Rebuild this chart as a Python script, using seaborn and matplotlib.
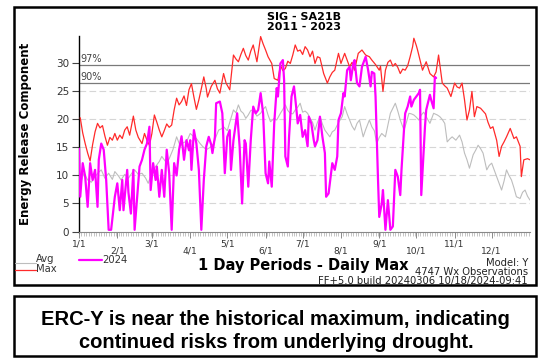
import matplotlib
matplotlib.use("Agg")
import matplotlib.pyplot as plt
import seaborn as sns
import pandas as pd
from matplotlib.patches import Rectangle
from matplotlib.lines import Line2D

# ---------------- data (day of year, value) ----------------
max_days = [1, 3, 5, 7, 9, 11, 13, 15, 17, 19, 21, 23, 25, 27, 29, 31, 33, 35, 37, 39, 41, 44, 46, 48,
            51, 53, 55, 57, 59, 61, 63, 65, 67, 69, 71, 73, 75, 77, 79, 81, 83, 85, 87, 89, 91, 93,
            95, 97, 99, 101, 103, 104, 107, 110, 112, 114, 117, 119, 122, 125, 127, 129, 131, 133,
            135, 137, 139, 141, 144, 147, 149, 151, 153, 156, 158, 161, 163, 165, 167, 169, 171,
            173, 175, 177, 179, 181, 183, 185, 187, 189, 191, 193, 195, 198, 201, 203, 205, 207,
            210, 212, 215, 217, 219, 221, 223, 226, 229, 232, 235, 237, 240, 243, 244, 246, 248,
            250, 252, 254, 256, 258, 260, 262, 264, 266, 268, 270, 271, 273, 274, 276, 278, 281,
            284, 287, 289, 291, 294, 296, 298, 301, 304, 306, 308, 310, 312, 314, 316, 318, 320,
            322, 325, 327, 329, 331, 333, 335, 338, 340, 342, 344, 346, 349, 352, 354, 357, 358,
            360, 363, 365]
max_vals = [20.3, 17.6, 15.7, 14.0, 12.6, 15.5, 17.8, 19.3, 18.5, 18.9, 17.0, 15.4, 16.8, 16.3,
            17.5, 16.3, 17.2, 16.6, 18.1, 18.7, 17.2, 20.6, 18.1, 16.8, 15.7, 17.5, 16.3, 15.4,
            17.5, 20.8, 19.5, 18.1, 16.9, 18.0, 19.2, 18.6, 19.0, 21.7, 23.8, 22.6, 23.2, 24.2,
            22.5, 25.3, 26.4, 24.0, 21.8, 23.5, 25.5, 27.6, 25.5, 24.0, 25.9, 27.0, 25.5, 24.7,
            28.2, 26.5, 25.3, 31.5, 30.8, 30.3, 31.6, 32.7, 31.4, 30.6, 32.2, 33.3, 30.3, 34.8,
            33.5, 32.4, 31.2, 30.0, 27.3, 27.0, 29.7, 28.7, 29.1, 30.4, 30.0, 31.5, 33.3, 32.2,
            32.4, 31.6, 33.0, 32.4, 31.2, 32.2, 30.0, 31.2, 31.0, 28.2, 26.5, 27.6, 28.4, 28.8,
            31.8, 30.0, 31.8, 30.6, 29.4, 30.2, 28.8, 31.8, 32.4, 31.5, 31.2, 30.6, 29.8, 28.8,
            29.5, 25.0, 28.8, 30.2, 30.6, 29.5, 30.0, 29.3, 28.2, 29.0, 28.8, 29.6, 31.2, 33.0,
            34.5, 33.2, 32.4, 30.6, 28.8, 30.3, 28.2, 27.6, 28.5, 31.5, 26.5, 26.0, 25.6, 24.1,
            26.5, 25.8, 25.6, 26.5, 23.5, 19.9, 21.7, 25.0, 20.5, 22.3, 22.0, 21.5, 21.0, 19.5,
            18.4, 18.7, 16.3, 13.4, 15.2, 16.0, 16.9, 18.4, 16.6, 16.9, 15.2, 9.8, 12.8, 13.0,
            12.8]

avg_days = [1, 4, 7, 10, 13, 16, 18, 21, 24, 27, 29, 32, 34, 37, 40, 43, 45, 48, 51, 54, 56, 59,
            62, 65, 67, 69, 71, 73, 76, 79, 82, 84, 86, 88, 90, 93, 95, 98, 100, 103, 106, 109,
            111, 113, 115, 117, 120, 122, 125, 127, 129, 131, 133, 135, 137, 139, 141, 144, 147,
            149, 151, 153, 155, 158, 160, 163, 165, 167, 169, 171, 173, 175, 177, 179, 181, 183,
            185, 187, 189, 191, 193, 195, 197, 199, 201, 203, 205, 207, 209, 211, 213, 215, 217,
            219, 221, 223, 225, 227, 230, 232, 235, 237, 239, 241, 243, 245, 248, 250, 252, 254,
            256, 258, 260, 263, 265, 267, 269, 271, 273, 275, 277, 279, 281, 284, 287, 290, 292,
            294, 296, 298, 300, 302, 305, 308, 310, 312, 314, 316, 319, 321, 323, 325, 327, 330,
            332, 334, 336, 338, 340, 342, 344, 346, 348, 350, 352, 354, 357, 359, 361, 363, 365]
avg_vals = [8.6, 10.4, 9.2, 8.8, 9.8, 10.6, 11.0, 9.5, 10.4, 9.3, 10.7, 9.9, 9.2, 10.2, 9.5, 10.5,
            11.0, 10.2, 10.4, 9.5, 8.6, 10.5, 11.6, 12.5, 13.4, 12.8, 12.2, 13.0, 14.6, 16.9, 15.2,
            15.8, 16.0, 16.5, 17.5, 16.9, 16.6, 15.7, 15.2, 14.6, 15.0, 15.7, 17.0, 18.1, 18.3,
            18.7, 18.0, 19.5, 21.7, 21.2, 22.6, 21.5, 21.1, 20.2, 20.8, 21.6, 21.7, 20.6, 21.1,
            21.8, 22.3, 20.8, 19.6, 20.2, 19.9, 21.1, 21.8, 22.6, 21.6, 21.1, 21.0, 21.7, 22.2,
            22.9, 21.3, 21.5, 21.1, 20.2, 19.5, 18.1, 19.5, 20.5, 19.2, 18.1, 17.5, 16.9, 17.8,
            18.1, 19.0, 19.8, 20.5, 22.3, 21.0, 19.9, 18.8, 18.1, 19.3, 19.9, 16.9, 18.2, 19.9,
            18.7, 18.0, 15.7, 16.8, 17.5, 16.9, 19.0, 21.1, 22.0, 22.9, 21.5, 19.9, 18.1, 19.5,
            21.1, 21.0, 20.8, 20.4, 19.9, 20.8, 21.3, 20.5, 19.3, 21.1, 20.8, 20.5, 20.0, 19.3,
            16.0, 16.5, 16.9, 16.3, 17.2, 16.0, 14.0, 12.8, 11.3, 13.7, 14.5, 15.4, 14.8, 14.0,
            11.0, 11.8, 12.2, 11.0, 9.8, 8.6, 7.4, 9.0, 11.0, 10.0, 9.2, 7.8, 6.2, 5.9, 7.0, 7.4,
            6.3, 5.6]

y2024_days = [0, 1, 3, 5, 7, 9, 11, 13, 15, 16, 18, 20, 22, 24, 26, 29, 31, 33, 35, 36, 39, 40,
              42, 44, 45, 47, 49, 51, 53, 55, 57, 58, 60, 62, 63, 65, 67, 69, 71, 73, 75, 77, 79,
              81, 83, 85, 87, 89, 90, 91, 93, 95, 97, 99, 101, 103, 105, 107, 108, 110, 111, 114,
              116, 118, 120, 122, 123, 125, 128, 130, 132, 134, 135, 137, 139, 141, 143, 145, 147,
              149, 151, 153, 154, 156, 158, 160, 161, 163, 165, 166, 167, 169, 170, 172, 174, 176,
              177, 179, 181, 183, 185, 186, 188, 190, 191, 193, 195, 197, 199, 200, 202, 203, 205,
              207, 209, 210, 212, 214, 215, 217, 219, 220, 222, 223, 225, 227, 229, 232, 234, 236,
              237, 239, 240, 242, 243, 245, 246, 248, 250, 252, 254, 256, 258, 260, 261, 263, 264,
              266, 268, 269, 271, 273, 275, 276, 277, 279, 280, 281, 284, 285, 287, 288, 289]
y2024_vals = [14.8, 6.2, 12.2, 9.8, 4.4, 12.2, 9.2, 11.0, 4.4, 12.8, 15.7, 14.6, 9.2, 0.3, 0.3,
              6.2, 8.6, 3.8, 9.2, 3.8, 11.0, 7.0, 3.2, 11.0, 0.3, 6.0, 11.6, 12.8, 14.6, 15.7,
              18.7, 7.4, 12.2, 9.2, 11.6, 6.2, 11.0, 6.2, 14.6, 10.4, 0.3, 12.2, 10.0, 14.6, 17.0,
              12.8, 16.3, 14.5, 16.3, 11.0, 18.1, 15.7, 11.0, 0.3, 9.2, 15.2, 16.9, 15.5, 14.0,
              16.9, 22.9, 23.2, 21.1, 10.4, 16.9, 18.1, 11.0, 16.3, 21.1, 15.2, 5.0, 16.3, 15.7,
              8.0, 16.3, 22.3, 21.1, 21.7, 24.7, 21.1, 10.4, 8.6, 12.5, 8.0, 19.3, 25.6, 24.1,
              30.0, 30.6, 27.0, 13.4, 11.6, 16.9, 24.1, 25.9, 21.7, 19.3, 20.8, 16.9, 18.1, 15.2,
              20.5, 19.3, 16.3, 15.2, 16.3, 20.5, 16.9, 14.0, 6.2, 6.8, 8.6, 12.2, 11.0, 13.4,
              19.9, 21.1, 24.7, 24.1, 28.8, 29.4, 27.0, 30.0, 30.6, 26.5, 25.9, 29.4, 31.2, 28.8,
              25.9, 28.5, 28.2, 24.1, 9.2, 2.6, 5.0, 7.4, 0.3, 5.6, 0.3, 0.9, 11.0, 9.8, 6.5,
              11.0, 18.1, 21.1, 22.3, 24.1, 22.3, 23.5, 24.1, 24.7, 25.3, 6.5, 14.6, 18.7, 21.7,
              24.4, 23.5, 22.0, 27.6, 27.4]

month_starts = [0, 31, 59, 90, 120, 151, 181, 212, 243, 273, 304, 334]
month_labels = ["1/1", "2/1", "3/1", "4/1", "5/1", "6/1", "7/1", "8/1", "9/1", "10/1", "11/1", "12/1"]
y_ticks = [0, 5, 10, 15, 20, 25, 30]
grid_levels = [5, 10, 15, 20, 25]
pct_levels = [29.7, 26.5]
pct_labels = ["97%", "90%"]

# ---------------- figure ----------------
sns.set_style("white")
plt.rcParams["font.family"] = ["DejaVu Sans"]
plt.rcParams["text.color"] = "black"

W, H = 541, 364
fig = plt.figure(figsize=(W / 100, H / 100), dpi=100)
fig.patch.set_facecolor("white")


def fx(px):
    return px / W


def fy(py):
    return 1 - py / H


ax = fig.add_axes([fx(79), fy(231.5), fx(530) - fx(79), fy(36) - fy(231.5)])
ax.set_facecolor("white")

for v in grid_levels:
    ax.axhline(v, color="#d6d6d6", lw=0.8, ls=(0, (6, 3)), zorder=0)
for lev, lab in zip(pct_levels, pct_labels):
    ax.axhline(lev, color="#7a7a7a", lw=0.9, zorder=1)
    ax.text(1, lev + 0.25, lab, fontsize=7, color="#444444", va="bottom", ha="left", zorder=1)

df_avg = pd.DataFrame({"day": avg_days, "val": avg_vals})
df_max = pd.DataFrame({"day": max_days, "val": max_vals})
df_cur = pd.DataFrame({"day": y2024_days, "val": y2024_vals})

sns.lineplot(data=df_avg, x="day", y="val", ax=ax, color="#bdbdbd", lw=0.8,
             estimator=None, sort=False, zorder=2)
sns.lineplot(data=df_max, x="day", y="val", ax=ax, color="#ff2a2a", lw=0.9,
             estimator=None, sort=False, zorder=3)
sns.lineplot(data=df_cur, x="day", y="val", ax=ax, color="#ff00ff", lw=1.6,
             estimator=None, sort=False, zorder=4)

ax.set_xlim(0, 365)
ax.set_ylim(0, 34.9)
ax.set_xlabel("")
ax.set_ylabel("Energy Release Component", fontsize=8.5, fontweight="bold", color="black")
ax.yaxis.set_label_coords((32 - 79) / 451, 0.5)

ax.set_yticks(y_ticks)
ax.set_yticklabels([str(t) for t in y_ticks])
ax.tick_params(axis="y", direction="out", length=5, width=0.8, color="#444444",
               labelsize=7.5, labelcolor="#333333", pad=2, left=True)

ax.set_xticks(month_starts)
ax.set_xticklabels([lab if i % 2 == 0 else "\n" + lab for i, lab in enumerate(month_labels)])
ax.set_xticks(list(range(0, 366, 2)), minor=True)
ax.tick_params(axis="x", which="major", direction="out", length=4, width=0.6, color="#777777",
               labelsize=6.6, labelcolor="#333333", pad=2, bottom=True)
ax.tick_params(axis="x", which="minor", direction="out", length=3, width=0.4, color="#999999",
               bottom=True)
for lbl in ax.get_xticklabels():
    lbl.set_linespacing(0.72)

for s in ["top", "right"]:
    ax.spines[s].set_visible(False)
ax.spines["left"].set_color("black")
ax.spines["left"].set_linewidth(1.0)
ax.spines["bottom"].set_color("#888888")
ax.spines["bottom"].set_linewidth(0.8)

# titles and annotations
fig.text(fx(304), fy(17), "SIG - SA21B", ha="center", va="center", fontsize=8,
         fontweight="bold", color="black")
fig.text(fx(304), fy(27.5), "2011 - 2023", ha="center", va="center", fontsize=8,
         fontweight="bold", color="black")
fig.text(fx(303), fy(265.5), "1 Day Periods - Daily Max", ha="center", va="center",
         fontsize=10.5, fontweight="bold", color="black")
fig.text(fx(528), fy(262.5), "Model: Y", ha="right", va="center", fontsize=7.2, color="#222222")
fig.text(fx(528), fy(272), "4747 Wx Observations", ha="right", va="center", fontsize=7.2,
         color="#222222")
fig.text(fx(528), fy(281), "FF+5.0 build 20240306 10/18/2024-09:41", ha="right", va="center",
         fontsize=7.2, color="#222222")

# legend
fig.add_artist(Line2D([fx(15), fx(36)], [fy(262.5), fy(262.5)], color="#bdbdbd", lw=0.8))
fig.text(fx(36), fy(259.5), "Avg", ha="left", va="center", fontsize=7.2, color="#333333")
fig.add_artist(Line2D([fx(15), fx(36)], [fy(269.5), fy(269.5)], color="#ff2a2a", lw=0.9))
fig.text(fx(36), fy(269.5), "Max", ha="left", va="center", fontsize=7.2, color="#333333")
fig.add_artist(Line2D([fx(79), fx(102)], [fy(259.5), fy(259.5)], color="#ff00ff", lw=1.6))
fig.text(fx(102), fy(259.8), "2024", ha="left", va="center", fontsize=7.2, color="#333333")

# frames
fig.add_artist(Rectangle((fx(14), fy(285)), fx(536) - fx(14), fy(7) - fy(285),
                         transform=fig.transFigure, fill=False, ec="black", lw=1.8))
fig.add_artist(Rectangle((fx(14), fy(356)), fx(536) - fx(14), fy(295.5) - fy(356),
                         transform=fig.transFigure, fill=False, ec="black", lw=1.8))

fig.text(fx(275), fy(319.5), "ERC-Y is near the historical maximum, indicating", ha="center",
         va="center", fontsize=14.5, fontweight="bold", color="black",
         family=["Liberation Sans", "DejaVu Sans"])
fig.text(fx(276), fy(343), "continued risks from underlying drought.", ha="center",
         va="center", fontsize=14.5, fontweight="bold", color="black",
         family=["Liberation Sans", "DejaVu Sans"])

fig.savefig("out.png", dpi=100, facecolor="white")
